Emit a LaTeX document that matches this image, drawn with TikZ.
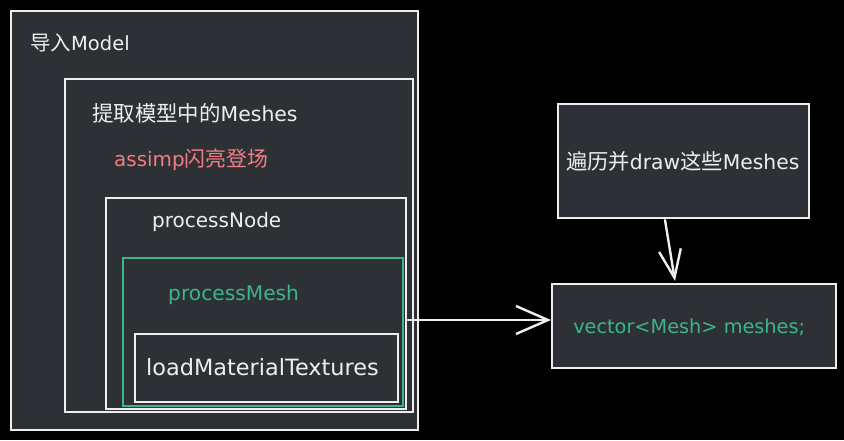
\documentclass[tikz,border=0pt]{standalone}
\usepackage{fontspec}
\setmainfont{DejaVu Sans}
\newfontfamily\cjk[Scale=1.05]{Noto Sans CJK SC}
\usetikzlibrary{arrows.meta}
\definecolor{bgblack}{RGB}{0,0,0}
\definecolor{boxfill}{RGB}{45,49,53}
\definecolor{edgewhite}{RGB}{238,238,238}
\definecolor{tealgreen}{RGB}{58,181,142}
\definecolor{softred}{RGB}{244,124,132}
\newcommand{\fsz}[1]{\fontsize{#1}{1.2\dimexpr #1pt\relax}\selectfont}
\tikzset{
  frame/.style={draw=edgewhite, fill=boxfill, line width=2.4pt, inner sep=0pt, anchor=north west},
  greenframe/.style={frame, draw=tealgreen},
  label/.style={anchor=west, inner sep=0pt, text=edgewhite, font=\fsz{20}},
  arrowline/.style={draw=edgewhite, line width=2.4pt, line cap=round},
}
\begin{document}
\begin{tikzpicture}[x=1pt,y=-1pt]
\useasboundingbox (0,0) rectangle (844,440);
\fill[bgblack] (0,0) rectangle (844,440);

\node[frame, minimum width=407pt, minimum height=419pt] (outer) at (10,10) {};
\node[frame, minimum width=348pt, minimum height=333pt] (extract) at (64,78) {};
\node[frame, minimum width=300pt, minimum height=211pt] (pnode) at (105,197) {};
\node[greenframe, minimum width=280pt, minimum height=148pt] (pmesh) at (122,257) {};
\node[frame, minimum width=263pt, minimum height=68pt] (loadmat) at (134,333) {};

\node[frame, minimum width=251pt, minimum height=114pt] (traverse) at (557,103) {};
\node[frame, minimum width=284pt, minimum height=84pt] (vec) at (551,283) {};

\node[label, font=\fsz{19.5}] (t1) at (30,43) {{\cjk 导入}Model};
\node[label, font=\fsz{20.4}] (t2) at (92,113) {{\cjk 提取模型中的}Meshes};
\node[label, text=softred, font=\fsz{19.9}] (t3) at (114,160) {assimp{\cjk 闪亮登场}};
\node[label] (t4) at (152,222) {processNode};
\node[label, text=tealgreen, font=\fsz{20.2}] (t5) at (168,295) {processMesh};
\node[label, font=\fsz{22.4}] (t6) at (146,367) {loadMaterialTextures};
\node[anchor=center, inner sep=0pt, text=edgewhite, font=\fsz{20.3}] (t7) at ([xshift=-1pt]traverse.center) {{\cjk 遍历并}draw{\cjk 这些}Meshes};
\node[anchor=center, inner sep=0pt, text=tealgreen, font=\fsz{19.3}] (t8) at ([xshift=-5pt,yshift=-1pt]vec.center) {vector<Mesh> meshes;};

\coordinate (hstart) at (408,320);
\coordinate (vstart) at (665,220);
\coordinate (vend) at (675,281);
\draw[arrowline, -{Straight Barb[length=32pt,width=28pt,line width=2.4pt]}] (hstart) -- (hstart -| vec.west);
\draw[arrowline, -{Straight Barb[length=28pt,width=22pt,line width=2.4pt]}] (vstart) -- (vend);
\end{tikzpicture}
\end{document}
